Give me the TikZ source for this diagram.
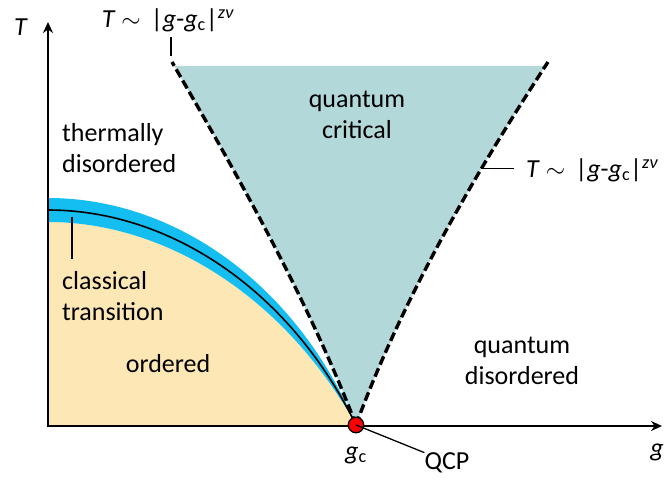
\documentclass[tikz,border=0pt]{standalone}
\usepackage{fontspec}
\setmainfont{Carlito}
\usetikzlibrary{arrows.meta, positioning, calc}
\definecolor{tealqc}{RGB}{179,216,217}
\definecolor{kuningord}{RGB}{253,231,180}
\definecolor{biruklas}{RGB}{20,190,240}
\definecolor{merahqcp}{RGB}{255,0,0}

\begin{document}
\begin{tikzpicture}[x=1pt, y=-1pt, font=\fontsize{26}{31}\selectfont,
    crossover/.style={line width=3.4pt, dash pattern=on 9pt off 4pt},
    leader/.style={line width=1.3pt},
    lbl/.style={inner sep=0pt, align=center}]
    \useasboundingbox (0,0) rectangle (664,481);
    \coordinate (qc) at (356,425);
    % quantum critical fan
    \begin{scope}
        \clip (0,67) rectangle (664,481);
        \fill[tealqc] (qc) .. controls (306,294) and (232,166) .. (172,62) -- (548,62)
            .. controls (480,166) and (404,294) .. (qc) -- cycle;
    \end{scope}
    % ordered phase and classical band
    \fill[kuningord] (48,222) .. controls (165,222) and (284,296) .. (qc) -- (48,426) -- cycle;
    \fill[biruklas] (48,198) .. controls (175,198) and (296,284) .. (qc)
        .. controls (284,296) and (165,222) .. (48,222) -- cycle;
    \draw[line width=1.6pt] (48,210) .. controls (170,210) and (290,290) .. (qc);
    \draw[crossover] (qc) .. controls (306,294) and (232,166) .. (172,62);
    \draw[crossover] (qc) .. controls (404,294) and (480,166) .. coordinate[pos=0.68] (rtip) (548,62);
    % axes
    \draw[line width=1.8pt, {Stealth[length=11pt,width=10pt]}-{Stealth[length=11pt,width=10pt]}]
        (48,22) -- (48,426) -- (662,426);
    \node[lbl] (Tax) at (21,27) {\textit{T}};
    \node[lbl] (gax) at (657,452) {\textit{g}};
    % critical point
    \node[circle, draw, fill=merahqcp, line width=1.3pt, minimum size=15.5pt, inner sep=0pt] (qcp) at (qc) {};
    \node[lbl] (gc) at (356,455) {\textit{g}\textsubscript{c}};
    \node[lbl] (qcpl) at (447,463) {QCP};
    \draw[leader] (qcp.center) -- (qcpl.north west);
    % regions
    \node[lbl, anchor=west, align=left] (thd) at (62,148) {thermally\\disordered};
    \node[lbl, anchor=west, align=left] (clt) at (62,296) {classical\\transition};
    \node[lbl] (ord) at (168,364) {ordered};
    \node[lbl] (qcr) at (357,115) {quantum\\critical};
    \node[lbl] (qdis) at (522,361) {quantum\\disordered};
    % crossover labels
    \node[lbl] (lbT) at (168,20) {\textit{T} $\sim$\ \,|\textit{g}-\textit{g}\textsubscript{c}|\textsuperscript{\textit{zν}}};
    \node[lbl, anchor=west] (lbR) at (526,170) {\textit{T} $\sim$\ \,|\textit{g}-\textit{g}\textsubscript{c}|\textsuperscript{\textit{zν}}};
    \coordinate (ltip) at (171,56);
    \coordinate (cttip) at (72,217);
    \draw[leader] (ltip) -- ([yshift=-5pt]lbT.south -| ltip);
    \draw[leader] (rtip) -- ([xshift=-12pt]lbR.west |- rtip);
    \draw[leader] (cttip) -- ([yshift=12pt]clt.north -| cttip);
\end{tikzpicture}
\end{document}
